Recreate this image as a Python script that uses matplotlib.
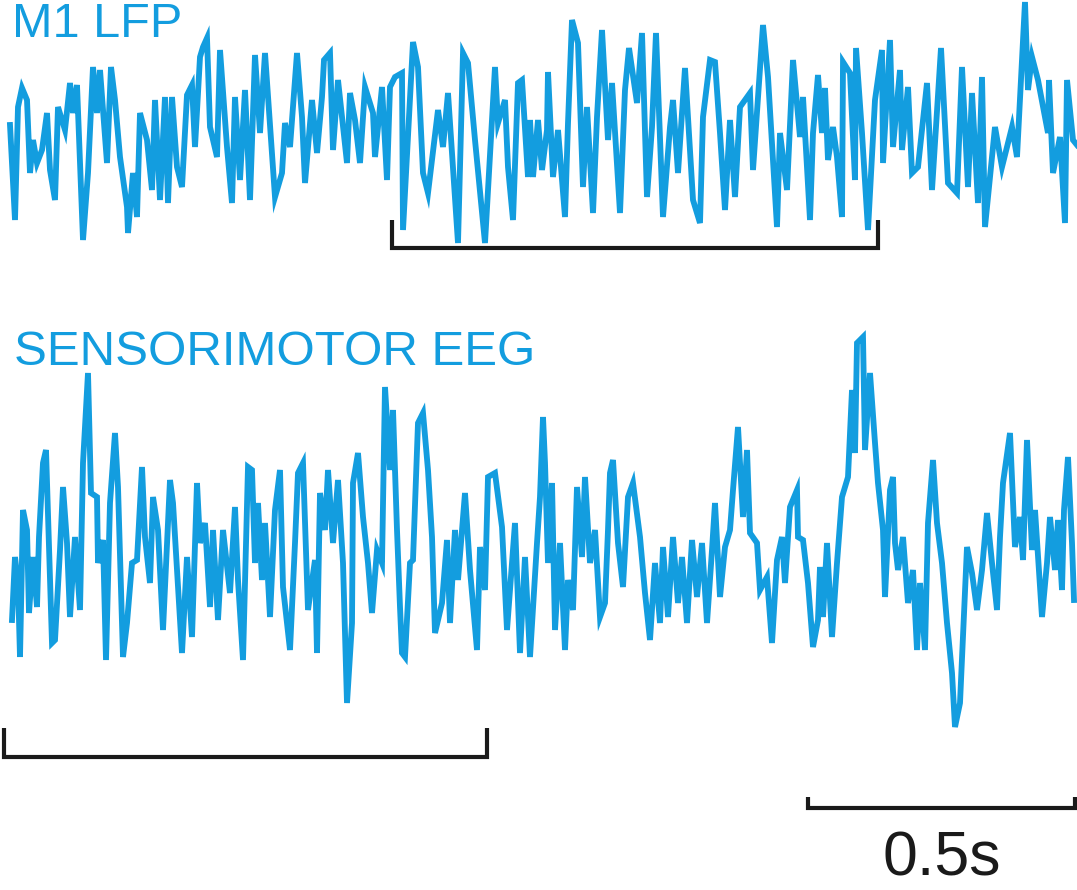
import numpy as np
import matplotlib.pyplot as plt

FS = 534

# M1 LFP: sample index, amplitude (uV)
lfp_idx = [0, 5, 8, 12, 17, 20, 23, 27, 32, 37, 40, 45, 48, 55, 60, 63, 67, 73, 78, 83,
           87, 90, 97, 101, 105, 110, 117, 118, 123, 127, 130, 137, 142, 145, 150, 155, 158, 162, 167, 172,
           177, 182, 185, 190, 193, 197, 200, 207, 210, 217, 222, 225, 230, 235, 240, 245, 250, 255, 265, 272,
           275, 280, 287, 292, 295, 302, 307, 312, 314, 320, 323, 328, 337, 340, 345, 350, 355, 363, 365, 372,
           377, 380, 385, 392, 393, 403, 408, 413, 418, 422, 428, 433, 438, 448, 453, 458, 465, 475, 485, 488,
           495, 498, 503, 508, 512, 518, 520, 523, 528, 532, 537, 538, 543, 548, 555, 558, 562, 568, 573, 577,
           583, 587, 592, 598, 602, 610, 615, 619, 627, 632, 637, 642, 646, 653, 660, 663, 668, 675, 683, 690,
           693, 700, 705, 710, 715, 720, 725, 730, 740, 743, 753, 758, 767, 770, 777, 783, 790, 793, 800, 803,
           808, 812, 815, 818, 823, 827, 832, 833, 840, 845, 846, 852, 858, 865, 872, 873, 880, 883, 890, 892,
           898, 902, 908, 917, 922, 931, 938, 947, 952, 958, 962, 968, 972, 975, 985, 992, 1002, 1007, 1015, 1018,
           1022, 1028, 1038, 1039, 1043, 1050, 1055, 1057, 1063, 1067]
lfp_amp = [20, -75, 38, 57, 45, -28, 5, -18, -5, 32, -25, -55, 38, 15, 62, 32, 60, -95, -28, 78,
           32, 75, -18, 78, 45, -12, -62, -88, -28, -72, 32, 5, -45, 45, -55, 48, -58, 48, -22, -42,
           50, 60, -2, 88, 98, 107, 18, -12, 95, -2, -58, 48, -35, 55, -55, 90, 12, 92, -52, -28,
           22, -2, 92, 28, -38, 45, -8, 48, 85, 92, -5, 65, -18, 52, 25, -18, 58, 32, -12, 58,
           -35, 58, 68, 72, -85, 103, 78, -28, -48, -15, 35, -2, 52, -98, 92, 82, 5, -98, 78, 22,
           45, -22, -75, 62, 65, -32, 25, -32, 25, -25, 15, 73, -32, 15, -72, 22, 125, 102, -42, 38,
           -68, 28, 115, 5, 62, -68, 55, 97, 42, 112, -52, 18, 112, -72, 18, 45, -28, 77, -55, -78,
           28, 85, 83, 12, -65, 25, -52, 38, 52, -25, 120, 68, -82, 12, -45, 85, 8, 48, -75, 12,
           70, 12, 57, -15, 18, -12, -72, 83, 72, -35, 97, 12, -85, 45, 95, -18, 105, -2, 75, -5,
           58, -28, -22, 62, -45, 97, -38, -48, 78, -42, 52, -58, 68, -82, 18, -22, 18, -12, 143, 55,
           88, 65, 12, 65, -28, 8, -78, 65, 5, 0]

# Sensorimotor EEG: sample index, amplitude (uV)
eeg_idx = [2, 5, 8, 10, 13, 17, 19, 23, 27, 29, 33, 36, 40, 42, 45, 50, 53, 57, 60, 65,
           70, 73, 78, 81, 87, 88, 93, 96, 100, 105, 108, 113, 117, 122, 127, 132, 135, 140, 143, 148,
           153, 160, 163, 172, 177, 182, 187, 190, 195, 200, 203, 208, 213, 220, 225, 228, 233, 238, 242, 245,
           248, 252, 255, 260, 265, 270, 273, 280, 285, 288, 293, 298, 305, 307, 310, 315, 318, 323, 328, 333,
           337, 342, 343, 348, 353, 358, 362, 367, 372, 375, 380, 383, 387, 390, 392, 395, 400, 403, 408, 413,
           418, 422, 425, 432, 437, 440, 445, 448, 455, 460, 467, 470, 475, 478, 485, 492, 497, 505, 510, 515,
           520, 527, 530, 533, 535, 538, 542, 545, 550, 555, 558, 563, 567, 572, 575, 580, 585, 590, 595, 598,
           600, 603, 608, 613, 618, 623, 630, 635, 640, 645, 650, 653, 658, 663, 668, 672, 677, 682, 687, 692,
           697, 702, 705, 710, 715, 720, 723, 728, 733, 737, 740, 747, 750, 757, 762, 767, 772, 775, 780, 787,
           788, 793, 798, 803, 808, 810, 813, 817, 822, 827, 832, 838, 842, 845, 847, 853, 855, 860, 865, 868,
           873, 875, 880, 883, 885, 888, 893, 898, 903, 907, 910, 915, 918, 923, 927, 932, 937, 942, 945, 950,
           953, 957, 962, 967, 972, 977, 982, 987, 990, 993, 1000, 1005, 1010, 1013, 1017, 1022, 1025, 1032, 1037, 1040,
           1045, 1048, 1052, 1054, 1058, 1062, 1064]
eeg_amp = [-45, 18, -8, -82, 65, 45, -38, 18, -32, 38, 112, 125, -2, -68, -65, 25, 88, 32, -42, 38,
           -35, 112, 202, 82, 78, 12, 35, -85, 72, 142, 88, -82, -48, 12, 15, 108, 38, -8, 78, 45,
           -55, 95, 72, -78, 18, -62, 92, 32, 52, -32, 45, -45, 45, -18, 68, -5, -85, 108, 105, 12,
           72, -5, 52, -42, 65, 105, -12, -75, 32, 102, 112, -35, 15, -78, 82, 45, 105, 32, 95, 12,
           -128, -48, 92, 122, 58, 12, -38, 25, 12, 188, 105, 165, 45, -32, -78, -82, 12, 15, 152, 162,
           105, 38, -58, -28, 35, -48, 45, -5, 82, 5, -75, 28, -15, 98, 102, 48, -55, 52, -78, 18,
           -82, 32, 78, 158, 112, 12, 92, -55, 32, -75, -5, -35, 88, 18, 98, 12, 45, -42, -28, 45,
           102, 115, 32, -12, 78, 92, 38, -18, -65, 12, -48, 28, -42, 38, -28, 18, -48, 35, -22, 32,
           -48, 25, 72, -22, 28, 45, 85, 148, 58, 125, 42, 32, -15, -2, -68, 15, 38, -8, 68, 85,
           38, 35, -8, -72, -45, 8, -42, 32, -62, 12, 78, 98, 185, 122, 232, 238, 125, 202, 132, 92,
           45, -22, 85, 98, 32, 5, 38, -28, 5, -75, -8, -75, 52, 115, 52, 12, -48, -98, -152, -128,
           -62, 28, 2, -35, 5, 62, 12, -35, 38, 92, 142, 28, 58, 15, 135, 25, 65, -42, 12, 58,
           5, 55, -15, 65, 118, 32, -25]

# annotation brackets (seconds) and scale bar
lfp_window = (0.7154, 1.6255)
eeg_window = (-0.0112, 0.8933)
scale_bar = (1.4944, 1.9944)

blue = '#139ddf'
ink = '#1a1a1a'
eeg_offset = -430

fig = plt.figure(figsize=(10.77, 8.9), dpi=100)
ax = fig.add_axes([0, 0, 1, 1])
ax.set_xlim(-10 / FS, 1067 / FS)
ax.set_ylim(-745, 145)
ax.axis('off')

t_lfp = np.array(lfp_idx) / FS
t_eeg = np.array(eeg_idx) / FS
ax.plot(t_lfp, np.array(lfp_amp), color=blue, lw=4.2, solid_joinstyle='miter')
ax.plot(t_eeg, np.array(eeg_amp) + eeg_offset, color=blue, lw=4.2, solid_joinstyle='miter')

# brackets marking the analysed windows
def bracket(x0, x1, y, h):
    ax.plot([x0, x0, x1, x1], [y + h, y, y, y + h], color=ink, lw=3,
            solid_joinstyle='miter', solid_capstyle='butt')

bracket(*lfp_window, -103, 28)
bracket(*eeg_window, -612, 29)
bracket(*scale_bar, -663, 11)

ax.text(0.0037, 108, 'M1 LFP', color=blue, fontsize=35, family='Liberation Sans')
ax.text(4 / FS, -220, 'SENSORIMOTOR EEG', color=blue, fontsize=35.5, family='Liberation Sans')
ax.text(sum(scale_bar) / 2, -730, '0.5s', color=ink, fontsize=45, family='Liberation Sans',
        ha='center')

fig.savefig('out.png', dpi=100)
